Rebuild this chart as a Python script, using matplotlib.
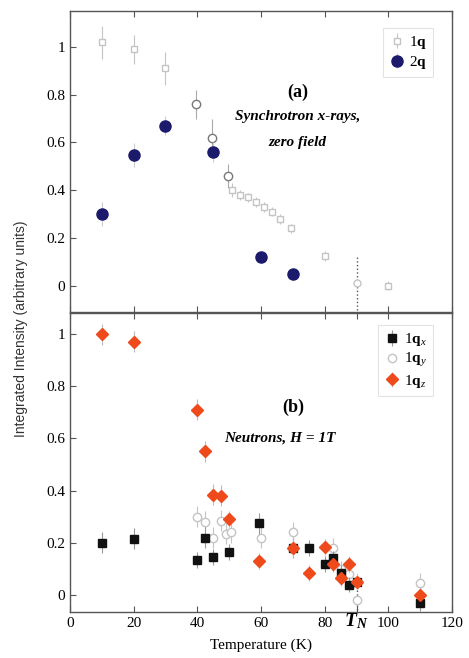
import numpy as np
import matplotlib.pyplot as plt

plt.rcParams['font.family'] = ['Liberation Serif', 'DejaVu Serif']
plt.rcParams['mathtext.fontset'] = 'custom'
plt.rcParams['mathtext.rm'] = 'Liberation Serif'
plt.rcParams['mathtext.it'] = 'Liberation Serif:italic'
plt.rcParams['mathtext.bf'] = 'Liberation Serif:bold'
plt.rcParams['mathtext.bfit'] = 'Liberation Serif:italic:bold'

# ---- panel (a): synchrotron x-rays, zero field ----
t_1q_sq = [10, 20, 30, 51, 53.5, 56, 58.5, 61, 63.5, 66, 69.5, 80, 100]
i_1q_sq = [1.02, 0.99, 0.91, 0.40, 0.38, 0.37, 0.35, 0.33, 0.31, 0.28, 0.24, 0.125, 0.0]
e_1q_sq = [0.07, 0.06, 0.07, 0.03, 0.02, 0.02, 0.02, 0.02, 0.02, 0.02, 0.02, 0.02, 0.02]
t_1q_ci = [39.5, 44.5, 49.7, 90]
i_1q_ci = [0.76, 0.62, 0.46, 0.01]
e_1q_ci = [0.06, 0.08, 0.05, 0.11]

t_2q = [10, 20, 30, 45, 60, 70]
i_2q = [0.30, 0.546, 0.67, 0.56, 0.12, 0.05]
e_2q = [0.05, 0.05, 0.04, 0.04, 0.02, 0.02]

# ---- panel (b): neutrons, H = 1T ----
t_qx = [10, 20, 40, 42.3, 45, 50, 59.5, 70, 75, 80, 82.6, 85, 87.5, 90, 110]
i_qx = [0.20, 0.215, 0.135, 0.22, 0.145, 0.165, 0.275, 0.18, 0.18, 0.12, 0.14, 0.085, 0.04, 0.05, -0.03]
e_qx = [0.04, 0.04, 0.03, 0.04, 0.03, 0.03, 0.04, 0.04, 0.03, 0.03, 0.03, 0.03, 0.03, 0.03, 0.03]

t_qy = [40, 42.3, 45, 47.3, 49, 50.5, 60, 70, 82.6, 85, 87.5, 90, 110]
i_qy = [0.30, 0.28, 0.22, 0.285, 0.235, 0.24, 0.22, 0.24, 0.18, 0.10, 0.08, -0.02, 0.045]
e_qy = [0.04, 0.04, 0.04, 0.04, 0.04, 0.04, 0.04, 0.04, 0.04, 0.03, 0.03, 0.08, 0.04]

t_qz = [10, 20, 40, 42.3, 45, 47.3, 49.8, 59.5, 70, 75, 80, 82.6, 85, 87.5, 90, 110]
i_qz = [1.0, 0.97, 0.71, 0.55, 0.385, 0.38, 0.29, 0.13, 0.18, 0.085, 0.185, 0.12, 0.065, 0.12, 0.05, 0.0]
e_qz = [0.04, 0.04, 0.04, 0.04, 0.04, 0.04, 0.03, 0.03, 0.04, 0.03, 0.03, 0.03, 0.03, 0.03, 0.03, 0.03]

yticks = [0, 0.2, 0.4, 0.6, 0.8, 1]
ytick_labels = ['0', '0.2', '0.4', '0.6', '0.8', '1']
xticks = [0, 20, 40, 60, 80, 100, 120]
xtick_labels = ['0', '20', '40', '60', '80', '100', '120']
t_neel = 90

fig = plt.figure(figsize=(4.69, 6.58), dpi=100)
ax1 = fig.add_axes([0.149, 0.526, 0.815, 0.457])
ax2 = fig.add_axes([0.149, 0.070, 0.815, 0.454])

navy = '#1c1a6b'
red = '#ee4a1c'
faint = '#c4c4c4'

# panel a
ax1.errorbar(t_1q_sq, i_1q_sq, yerr=e_1q_sq, fmt='s', ms=5, mfc='white', mec=faint,
             ecolor=faint, elinewidth=0.8, capsize=0, label=r'1$\mathbf{q}$')
ax1.errorbar(t_1q_ci[:3], i_1q_ci[:3], yerr=e_1q_ci[:3], fmt='o', ms=6, mfc='white', mec='#777777',
             ecolor='#aaaaaa', elinewidth=0.8, capsize=0)
eb = ax1.errorbar(t_1q_ci[3:], i_1q_ci[3:], yerr=e_1q_ci[3:], fmt='o', ms=5, mfc='white', mec=faint,
                  ecolor='#555555', elinewidth=1, capsize=0)
eb[2][0].set_linestyle(':')
ax1.errorbar(t_2q, i_2q, yerr=e_2q, fmt='o', ms=8, mfc=navy, mec=navy,
             ecolor='#cccccc', elinewidth=0.8, capsize=0, label=r'2$\mathbf{q}$', zorder=3)

ax1.set_xlim(0, 120)
ax1.set_ylim(-0.11, 1.15)
ax1.set_yticks(yticks)
ax1.set_yticklabels(ytick_labels)
ax1.set_xticks(xticks)
ax1.tick_params(labelbottom=False)
ax1.text(71.5, 0.81, '(a)', fontsize=13, fontweight='bold', ha='center', va='center')
ax1.text(71.5, 0.71, 'Synchrotron x-rays,', fontsize=11, fontweight='bold', style='italic',
         ha='center', va='center')
ax1.text(71.5, 0.60, 'zero field', fontsize=11, fontweight='bold', style='italic',
         ha='center', va='center')
leg1 = ax1.legend(loc='upper right', fontsize=11, frameon=True, fancybox=False,
                  handletextpad=0.3, borderpad=0.4, labelspacing=0.2, handlelength=1.0,
                  bbox_to_anchor=(0.97, 0.97))
leg1.get_frame().set_edgecolor('#dddddd')
leg1.get_frame().set_linewidth(0.8)

# panel b
eb = ax2.errorbar(t_qy[-2:-1], i_qy[-2:-1], yerr=e_qy[-2:-1], fmt='none', ecolor='#555555',
                  elinewidth=1, capsize=0)
eb[2][0].set_linestyle(':')
ax2.errorbar(t_qy[:-2] + t_qy[-1:], i_qy[:-2] + i_qy[-1:], yerr=e_qy[:-2] + e_qy[-1:],
             fmt='none', ecolor=faint, elinewidth=0.8, capsize=0)
ax2.plot(t_qy, i_qy, 'o', ms=6, mfc='white', mec=faint, label=r'1$\mathbf{q}_y$')
ax2.errorbar(t_qx, i_qx, yerr=e_qx, fmt='s', ms=6, mfc='#111111', mec='#111111',
             ecolor='#999999', elinewidth=0.8, capsize=0, label=r'1$\mathbf{q}_x$')
ax2.errorbar(t_qz, i_qz, yerr=e_qz, fmt='D', ms=6, mfc=red, mec=red,
             ecolor='#bbbbbb', elinewidth=0.8, capsize=0, label=r'1$\mathbf{q}_z$')

ax2.set_xlim(0, 120)
ax2.set_ylim(-0.065, 1.08)
ax2.set_yticks(yticks)
ax2.set_yticklabels(ytick_labels)
ax2.set_xticks(xticks + [t_neel])
ax2.set_xticklabels(xtick_labels + [''])
ax2.text(t_neel, -0.1, r'$\mathbfit{T}_\mathbfit{N}$', fontsize=14,
         ha='center', va='center')
ax2.text(70, 0.72, '(b)', fontsize=13, fontweight='bold', ha='center', va='center')
ax2.text(66, 0.60, 'Neutrons, H = 1T', fontsize=11, fontweight='bold', style='italic',
         ha='center', va='center')
h, l = ax2.get_legend_handles_labels()
order = [1, 0, 2]
leg2 = ax2.legend([h[i] for i in order], [l[i] for i in order], loc='upper right', fontsize=11,
                  frameon=True, fancybox=False, handletextpad=0.3, borderpad=0.4,
                  labelspacing=0.2, handlelength=1.0, bbox_to_anchor=(0.97, 0.985))
leg2.get_frame().set_edgecolor('#dddddd')
leg2.get_frame().set_linewidth(0.8)
ax2.set_xlabel('Temperature (K)', fontsize=11, labelpad=6)

for ax in (ax1, ax2):
    ax.tick_params(direction='in', top=True, right=False, labelsize=11, length=4, color='#555555')
    for s in ax.spines.values():
        s.set_color('#555555')
        s.set_linewidth(1.0)

fig.text(0.045, 0.50, 'Integrated Intensity (arbitrary units)', rotation=90,
         fontsize=10, family='Liberation Sans', ha='center', va='center', color='#333333')

fig.savefig('out.png', dpi=100)
